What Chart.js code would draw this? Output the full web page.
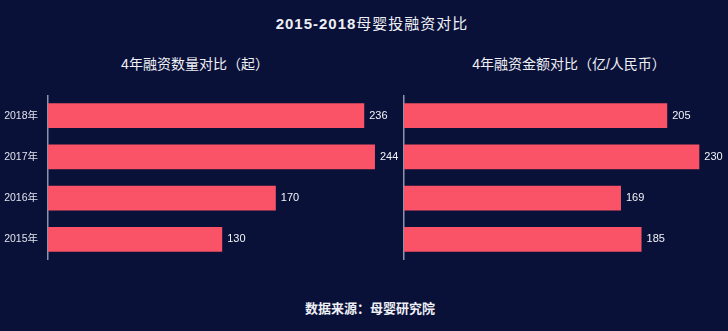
<!DOCTYPE html>
<html><head><meta charset="utf-8">
<script src="https://cdn.jsdelivr.net/npm/chart.js@4"></script>
<style>
html,body{margin:0;padding:0;background:#0a1139;width:728px;height:331px;overflow:hidden;}
body{position:relative;font-family:"Liberation Sans","Noto Sans CJK SC",sans-serif;color:#eef0f5;}
.t{position:absolute;white-space:nowrap;transform:translateX(-50%);}
canvas{position:absolute;}
</style></head>
<body>
<div class="t" id="title" style="left:372px;top:12px;font-size:15px;letter-spacing:1px;"><b>2015-2018</b>母婴投融资对比</div>
<div class="t" style="left:195px;top:53px;font-size:14px;">4年融资数量对比（起）</div>
<div class="t" style="left:569px;top:53px;font-size:14px;">4年融资金额对比（亿/人民币）</div>
<div class="t" style="left:370px;top:298px;font-size:13px;font-weight:bold;">数据来源：母婴研究院</div>
<div style="position:absolute;left:0;top:95px;width:400px;height:165px;"><canvas id="c1"></canvas></div>
<div style="position:absolute;left:384px;top:95px;width:344px;height:165px;"><canvas id="c2"></canvas></div>
<script>
const categories = ['2018年','2017年','2016年','2015年'];
const countValues = [236, 244, 170, 130];
const amountValues = [205, 230, 169, 185];

const FONT = '"Liberation Sans","Noto Sans CJK SC",sans-serif';
const BAR = '#fa5266';

const valueLabels = {
  id: 'valueLabels',
  afterDatasetsDraw(chart) {
    const ctx = chart.ctx;
    const meta = chart.getDatasetMeta(0);
    const data = chart.data.datasets[0].data;
    ctx.save();
    ctx.font = '11px ' + FONT;
    ctx.fillStyle = '#f2f3f7';
    ctx.textAlign = 'left';
    ctx.textBaseline = 'middle';
    meta.data.forEach((bar, i) => {
      ctx.fillText(String(data[i]), bar.x + 5, bar.y);
    });
    ctx.restore();
  }
};

function makeChart(id, values, showLabels, padLeft, padRight, yWidth) {
  return new Chart(document.getElementById(id), {
    type: 'bar',
    data: {
      labels: categories,
      datasets: [{
        data: values,
        backgroundColor: BAR,
        borderWidth: 0,
        categoryPercentage: 1,
        barPercentage: 0.605
      }]
    },
    options: {
      indexAxis: 'y',
      responsive: true,
      maintainAspectRatio: false,
      animation: false,
      layout: { padding: { left: padLeft, right: padRight, top: 0, bottom: 0 } },
      plugins: { legend: { display: false }, tooltip: { enabled: false } },
      scales: {
        x: { display: false, min: 0, max: 250 },
        y: {
          offset: true,
          grid: { display: false, drawTicks: false },
          border: { display: true, color: '#8d93aa', width: 1.5 },
          ticks: {
            display: showLabels,
            color: '#dfe2ea',
            font: { size: 10.5, family: FONT },
            padding: 10
          },
          afterFit(scale) {
            scale.width = yWidth;
            scale.paddingTop = 0;
            scale.paddingBottom = 0;
          }
        }
      }
    },
    plugins: [valueLabels]
  });
}

makeChart('c1', countValues, true, 0, 17, 48);
makeChart('c2', amountValues, false, 20, 3, 0);
</script>
</body></html>
